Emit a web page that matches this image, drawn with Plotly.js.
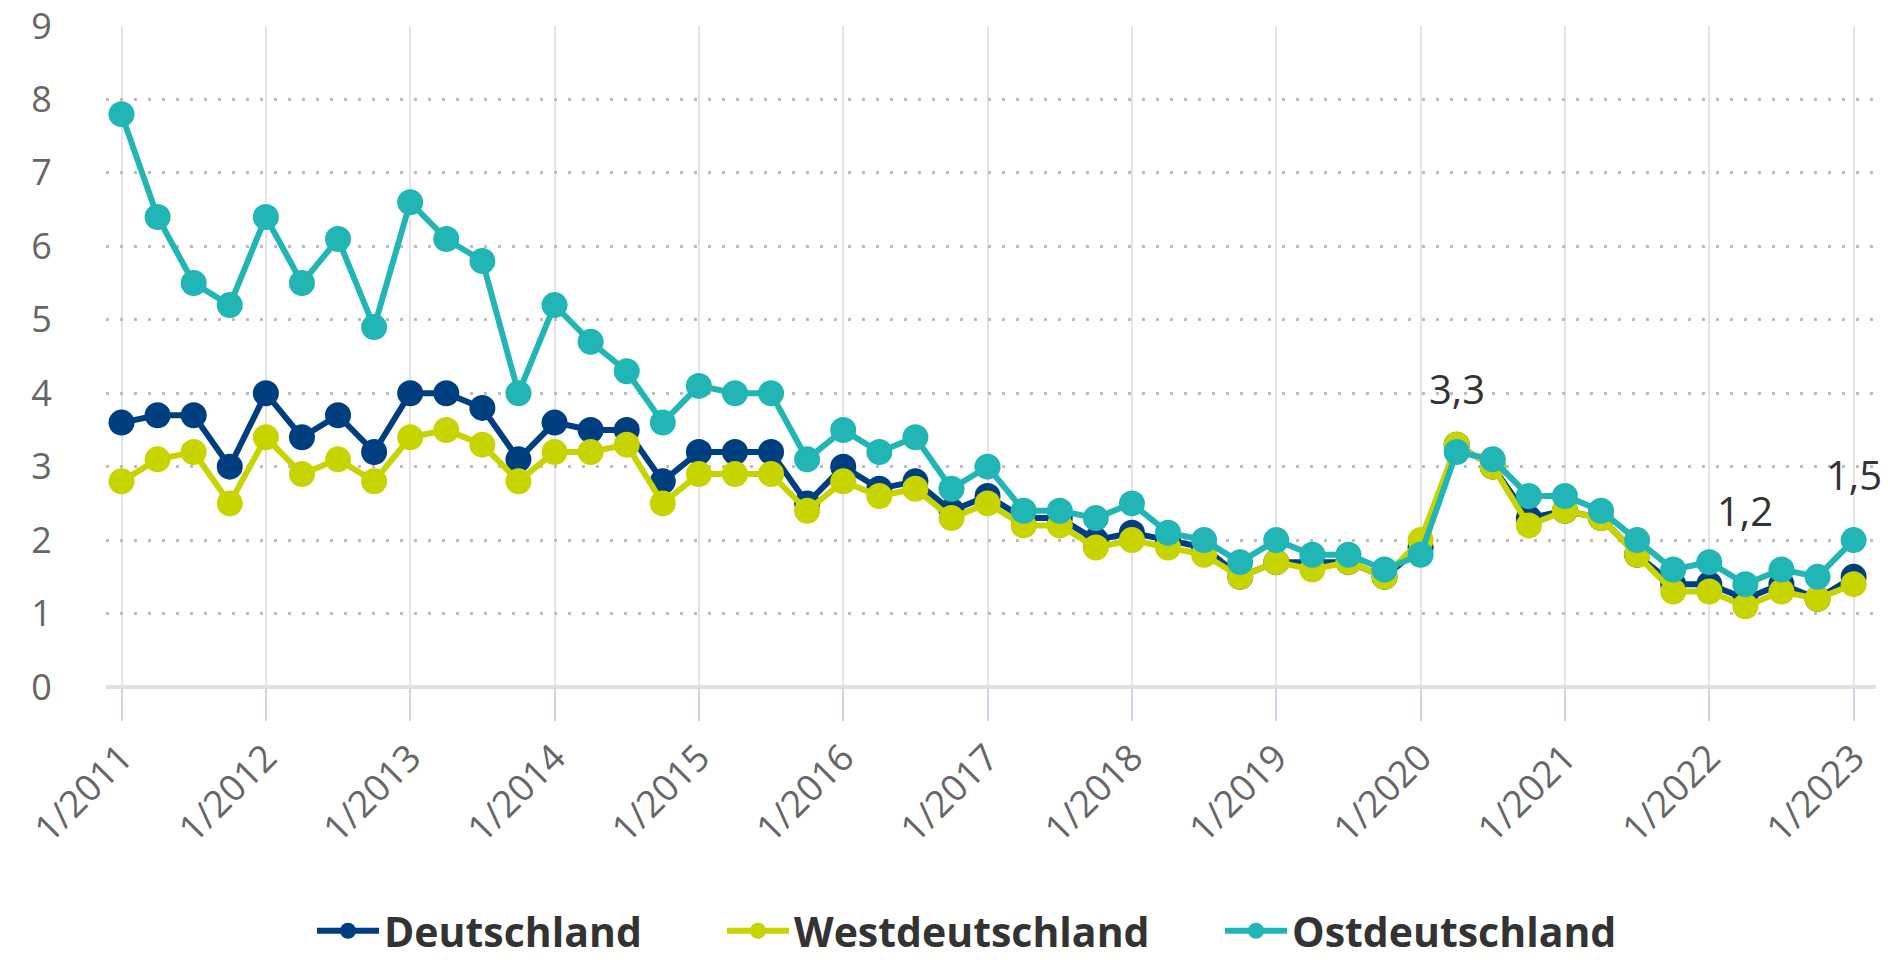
<!DOCTYPE html>
<html>
<head>
<meta charset="utf-8">
<script src="https://cdn.plot.ly/plotly-3.0.1.min.js"></script>
<style>
  html, body { margin: 0; padding: 0; background: #ffffff; }
  #chart { width: 1893px; height: 960px; }
</style>
</head>
<body>
<div id="chart"></div>
<script>
// Quarterly periods 1/2011 .. 1/2023
const quarters = [
  "1/2011","2/2011","3/2011","4/2011",
  "1/2012","2/2012","3/2012","4/2012",
  "1/2013","2/2013","3/2013","4/2013",
  "1/2014","2/2014","3/2014","4/2014",
  "1/2015","2/2015","3/2015","4/2015",
  "1/2016","2/2016","3/2016","4/2016",
  "1/2017","2/2017","3/2017","4/2017",
  "1/2018","2/2018","3/2018","4/2018",
  "1/2019","2/2019","3/2019","4/2019",
  "1/2020","2/2020","3/2020","4/2020",
  "1/2021","2/2021","3/2021","4/2021",
  "1/2022","2/2022","3/2022","4/2022",
  "1/2023"
];

const deutschland = [
  3.6, 3.7, 3.7, 3.0,
  4.0, 3.4, 3.7, 3.2,
  4.0, 4.0, 3.8, 3.1,
  3.6, 3.5, 3.5, 2.8,
  3.2, 3.2, 3.2, 2.5,
  3.0, 2.7, 2.8, 2.4,
  2.6, 2.3, 2.3, 2.0,
  2.1, 2.0, 1.9, 1.5,
  1.7, 1.7, 1.7, 1.5,
  1.9, 3.3, 3.0, 2.3,
  2.4, 2.3, 1.8, 1.4,
  1.4, 1.2, 1.4, 1.2,
  1.5
];

const westdeutschland = [
  2.8, 3.1, 3.2, 2.5,
  3.4, 2.9, 3.1, 2.8,
  3.4, 3.5, 3.3, 2.8,
  3.2, 3.2, 3.3, 2.5,
  2.9, 2.9, 2.9, 2.4,
  2.8, 2.6, 2.7, 2.3,
  2.5, 2.2, 2.2, 1.9,
  2.0, 1.9, 1.8, 1.5,
  1.7, 1.6, 1.7, 1.5,
  2.0, 3.3, 3.0, 2.2,
  2.4, 2.3, 1.8, 1.3,
  1.3, 1.1, 1.3, 1.2,
  1.4
];

const ostdeutschland = [
  7.8, 6.4, 5.5, 5.2,
  6.4, 5.5, 6.1, 4.9,
  6.6, 6.1, 5.8, 4.0,
  5.2, 4.7, 4.3, 3.6,
  4.1, 4.0, 4.0, 3.1,
  3.5, 3.2, 3.4, 2.7,
  3.0, 2.4, 2.4, 2.3,
  2.5, 2.1, 2.0, 1.7,
  2.0, 1.8, 1.8, 1.6,
  1.8, 3.2, 3.1, 2.6,
  2.6, 2.4, 2.0, 1.6,
  1.7, 1.4, 1.6, 1.5,
  2.0
];

const seriesNames = ["Deutschland", "Westdeutschland", "Ostdeutschland"];

// x tick labels shown (first quarter of each year)
const tickLabels = ["1/2011","1/2012","1/2013","1/2014","1/2015","1/2016","1/2017",
                    "1/2018","1/2019","1/2020","1/2021","1/2022","1/2023"];

// Periods whose Deutschland value is labelled
const labelledPeriods = ["2/2020", "2/2022", "1/2023"];

// ---------- build ----------
const idx = quarters.map((q, i) => i);
const tickVals = tickLabels.map(t => quarters.indexOf(t));

const colors = ["#003f7f", "#c8d400", "#22b5b5"];
const allSeries = [deutschland, westdeutschland, ostdeutschland];
const legendIds = ["legend", "legend2", "legend3"];

const traces = allSeries.map((vals, k) => ({
  type: "scatter",
  mode: "lines+markers",
  name: seriesNames[k],
  x: idx,
  y: vals,
  text: quarters,
  line: { color: colors[k], width: 6 },
  marker: { color: colors[k], size: 26 },
  cliponaxis: false,
  legend: legendIds[k],
  hovertemplate: "%{text}: %{y}<extra>" + seriesNames[k] + "</extra>"
}));

const labelShifts = [56, 74, 66];
const annotations = labelledPeriods.map((p, j) => {
  const i = quarters.indexOf(p);
  const top = Math.max(deutschland[i], westdeutschland[i], ostdeutschland[i]);
  return {
    x: i, y: top, xref: "x", yref: "y",
    text: deutschland[i].toFixed(1).replace(".", ","),
    showarrow: false,
    yanchor: "middle", xanchor: "center",
    yshift: labelShifts[j],
    font: { family: "Open Sans, Noto Sans, sans-serif", size: 40, color: "#333333" }
  };
});

const legendFont = { family: "Open Sans, Noto Sans, sans-serif", size: 41, color: "#333333", weight: 700 };
function legendAt(xpx) {
  return {
    orientation: "h",
    x: xpx, xref: "container", xanchor: "left",
    y: -0.42, yref: "paper", yanchor: "bottom",
    font: legendFont,
    itemwidth: 62,
    bgcolor: "rgba(0,0,0,0)"
  };
}

const layout = {
  width: 1893,
  height: 960,
  margin: { l: 106, r: 17, t: 26, b: 273, autoexpand: false },
  paper_bgcolor: "#ffffff",
  plot_bgcolor: "#ffffff",
  showlegend: true,
  legend: legendAt(312 / 1893),
  legend2: legendAt(722 / 1893),
  legend3: legendAt(1220 / 1893),
  xaxis: {
    type: "linear",
    range: [-0.43, 48.62],
    tickmode: "array",
    tickvals: tickVals,
    ticktext: tickLabels,
    tickangle: -45,
    tickfont: { family: "Open Sans, Noto Sans, sans-serif", size: 37, color: "#666666" },
    ticklabeloverflow: "allow",
    showgrid: true,
    gridcolor: "#e3e3e8",
    gridwidth: 2,
    ticks: "outside",
    ticklen: 33,
    tickwidth: 2,
    tickcolor: "#ccd6eb",
    showline: false,
    zeroline: false,
    automargin: false,
    fixedrange: true
  },
  yaxis: {
    range: [0, 9],
    dtick: 1,
    tick0: 0,
    tickfont: { family: "Open Sans, Noto Sans, sans-serif", size: 36, color: "#666666" },
    ticklabeloverflow: "allow",
    showgrid: true,
    gridcolor: "#bdbdbd",
    gridwidth: 3,
    griddash: "3px,11px",
    zeroline: true,
    zerolinecolor: "#e0e0e0",
    zerolinewidth: 4,
    ticks: "outside",
    ticklen: 46,
    tickcolor: "rgba(0,0,0,0)",
    showline: false,
    automargin: false,
    fixedrange: true
  },
  annotations: annotations,
  hovermode: "closest"
};

Plotly.newPlot("chart", traces, layout, { displayModeBar: false });
</script>
</body>
</html>
